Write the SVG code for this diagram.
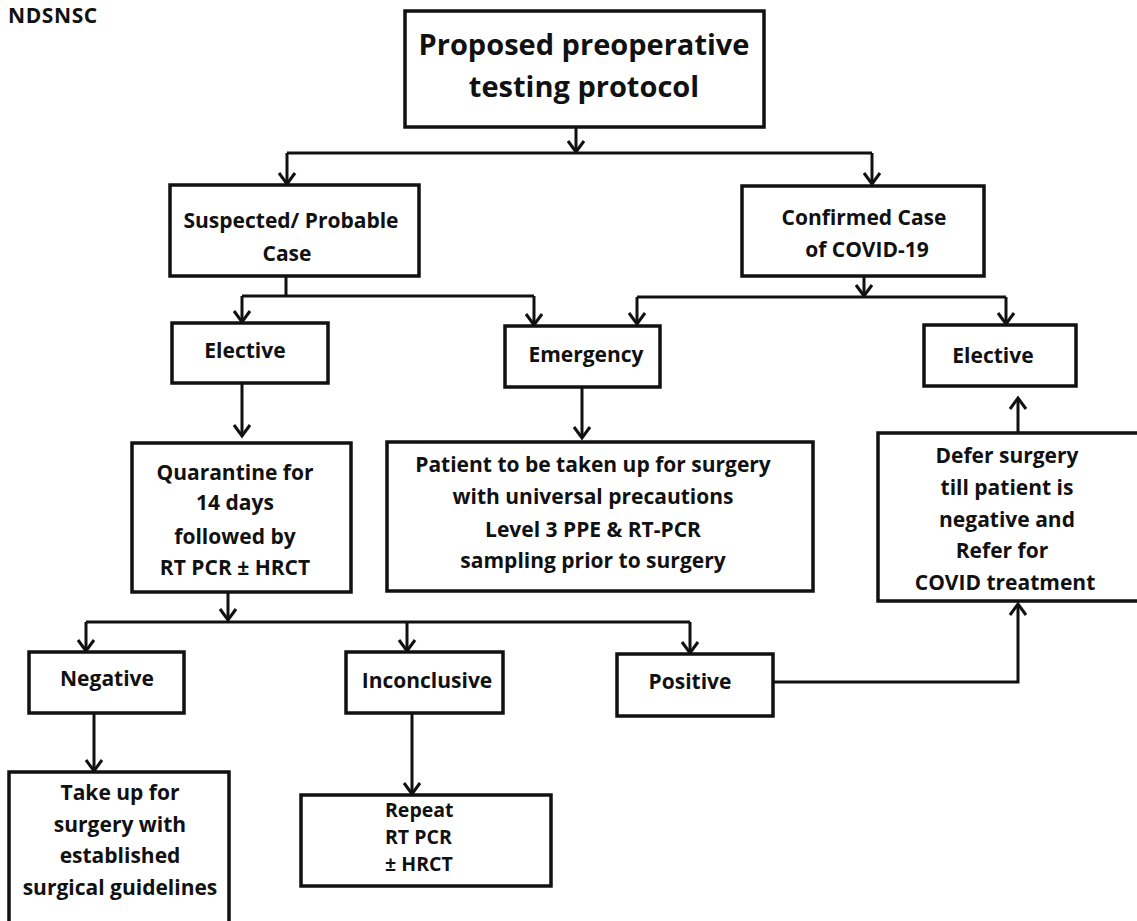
<svg xmlns="http://www.w3.org/2000/svg" width="1137" height="921" viewBox="0 0 1137 921">
<style>
  .box { fill: #ffffff; stroke: #111111; stroke-width: 3.5; }
  .t { font-family: "Open Sans", "Noto Sans", "Liberation Sans", sans-serif; font-weight: 700; fill: #111111; font-size: 21px; text-anchor: middle; }
  .title { font-size: 29px; }
  .lbl { font-size: 21px; text-anchor: start; letter-spacing: 0.6px; }
  .left { text-anchor: start; font-size: 19.5px; }
  .c { fill: none; stroke: #111111; stroke-width: 3; }
  .a { fill: none; stroke: #111111; stroke-width: 3; marker-end: url(#arr); }
</style>
<defs>
  <marker id="arr" markerUnits="userSpaceOnUse" markerWidth="20" markerHeight="20" refX="0" refY="0" orient="auto" overflow="visible">
    <path d="M-11,-8 L0,0 L-11,8" fill="none" stroke="#111111" stroke-width="3" stroke-linejoin="miter"/>
  </marker>
</defs>
<rect x="0" y="0" width="1137" height="921" fill="#ffffff"/>
<text id="label" class="t lbl" x="8" y="23">NDSNSC</text>

<g id="connectors">
  <path class="a" d="M576,127 V152"/>
  <path class="c" d="M287,153 H872"/>
  <path class="a" d="M287,153 V184"/>
  <path class="a" d="M872,153 V184"/>
  <path class="c" d="M286,276 V296"/>
  <path class="c" d="M242,296 H534"/>
  <path class="a" d="M242,296 V322"/>
  <path class="a" d="M534,296 V325"/>
  <path class="a" d="M864,276 V296"/>
  <path class="c" d="M637,297 H1006"/>
  <path class="a" d="M637,297 V324"/>
  <path class="a" d="M1006,297 V324"/>
  <path class="a" d="M242,383 V436"/>
  <path class="a" d="M582,387 V438"/>
  <path class="a" d="M228,592 V620"/>
  <path class="c" d="M86,622 H690"/>
  <path class="a" d="M86,622 V651"/>
  <path class="a" d="M407,622 V651"/>
  <path class="a" d="M690,622 V653"/>
  <path class="a" d="M94,713 V771"/>
  <path class="a" d="M412,713 V794"/>
  <path class="a" d="M773,682 H1018 V604"/>
  <path class="a" d="M1018,433 V398"/>
</g>

<g id="title">
  <rect class="box" x="405" y="11" width="359" height="116"/>
  <text class="t title" x="584" y="55">Proposed preoperative</text>
  <text class="t title" x="584" y="97">testing protocol</text>
</g>
<g id="suspected">
  <rect class="box" x="170" y="185" width="249" height="91"/>
  <text class="t" x="291" y="228">Suspected/ Probable</text>
  <text class="t" x="287" y="261">Case</text>
</g>
<g id="confirmed">
  <rect class="box" x="742" y="186" width="242" height="90"/>
  <text class="t" x="864" y="225">Confirmed Case</text>
  <text class="t" x="867" y="257">of COVID-19</text>
</g>
<g id="elective-left">
  <rect class="box" x="172" y="323" width="156" height="60"/>
  <text class="t" x="245" y="358">Elective</text>
</g>
<g id="emergency">
  <rect class="box" x="505" y="326" width="155" height="61"/>
  <text class="t" x="586" y="362">Emergency</text>
</g>
<g id="elective-right">
  <rect class="box" x="924" y="325" width="152" height="61"/>
  <text class="t" x="993" y="363">Elective</text>
</g>
<g id="quarantine">
  <rect class="box" x="132" y="443" width="219" height="149"/>
  <text class="t" x="235" y="480">Quarantine for</text>
  <text class="t" x="235" y="510">14 days</text>
  <text class="t" x="235" y="544">followed by</text>
  <text class="t" x="235" y="575">RT PCR ± HRCT</text>
</g>
<g id="patient">
  <rect class="box" x="387" y="442" width="426" height="149"/>
  <text class="t" x="593" y="472">Patient to be taken up for surgery</text>
  <text class="t" x="593" y="504">with universal precautions</text>
  <text class="t" x="593" y="537">Level 3 PPE &amp; RT-PCR</text>
  <text class="t" x="593" y="568">sampling prior to surgery</text>
</g>
<g id="defer">
  <rect class="box" x="878" y="433" width="270" height="168"/>
  <text class="t" x="1007" y="463">Defer surgery</text>
  <text class="t" x="1007" y="495">till patient is</text>
  <text class="t" x="1007" y="527">negative and</text>
  <text class="t" x="1002" y="558">Refer for</text>
  <text class="t" x="1005" y="590">COVID treatment</text>
</g>
<g id="negative">
  <rect class="box" x="29" y="652" width="155" height="61"/>
  <text class="t" x="107" y="686">Negative</text>
</g>
<g id="inconclusive">
  <rect class="box" x="346" y="652" width="157" height="61"/>
  <text class="t" x="427" y="688">Inconclusive</text>
</g>
<g id="positive">
  <rect class="box" x="617" y="654" width="156" height="62"/>
  <text class="t" x="690" y="689">Positive</text>
</g>
<g id="takeup">
  <rect class="box" x="9" y="772" width="220" height="170"/>
  <text class="t" x="120" y="800">Take up for</text>
  <text class="t" x="120" y="832">surgery with</text>
  <text class="t" x="120" y="863">established</text>
  <text class="t" x="120" y="895">surgical guidelines</text>
</g>
<g id="repeat">
  <rect class="box" x="301" y="795" width="250" height="91"/>
  <text class="t left" x="385" y="817">Repeat</text>
  <text class="t left" x="385" y="844">RT PCR</text>
  <text class="t left" x="385" y="871">± HRCT</text>
</g>
</svg>
